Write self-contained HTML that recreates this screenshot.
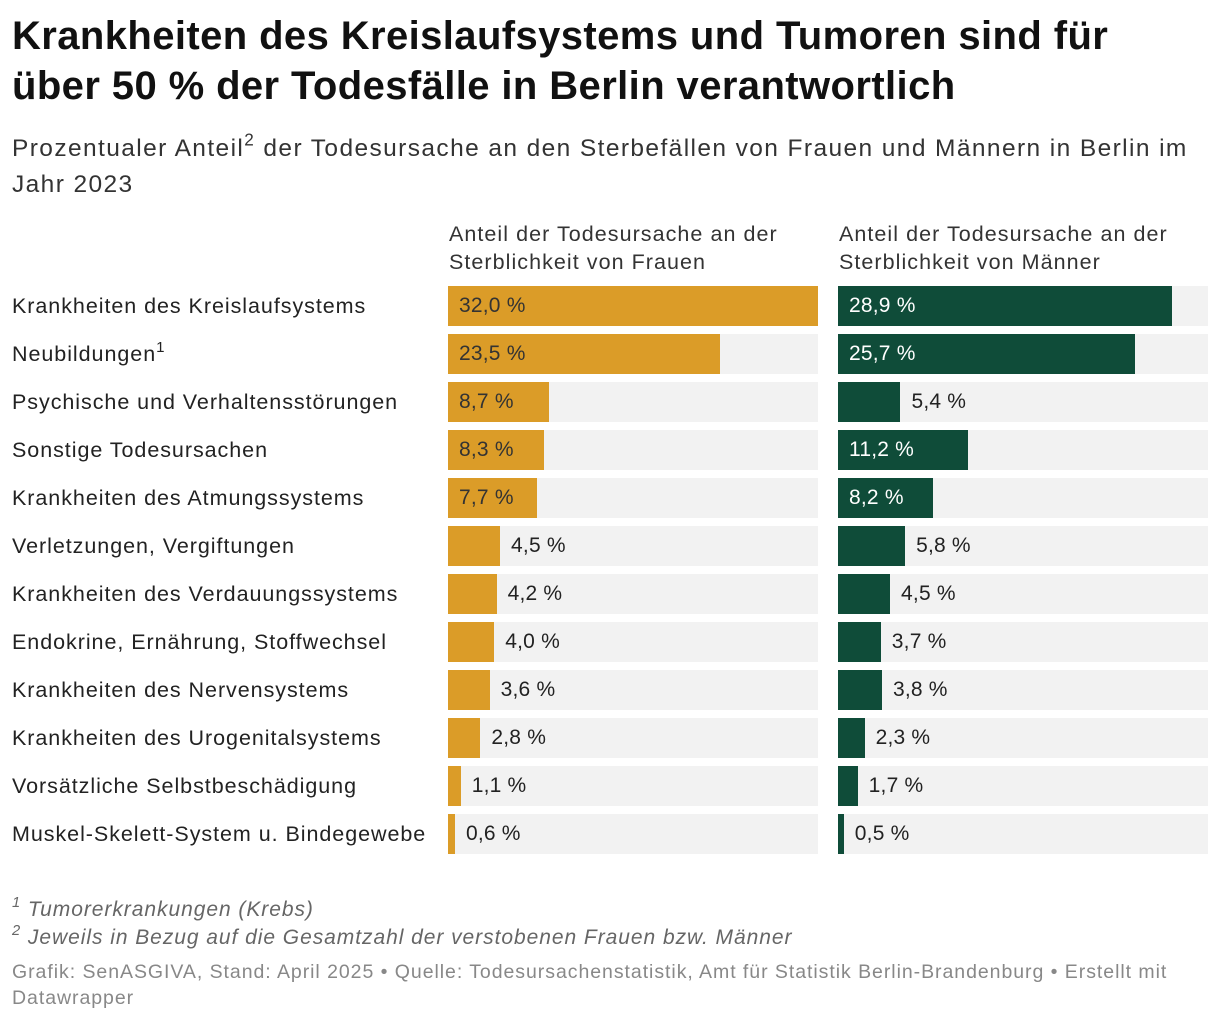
<!DOCTYPE html>
<html><head><meta charset="utf-8"><style>
body{margin:0;width:1220px;height:1022px;background:#fff;font-family:"Liberation Sans",sans-serif;color:#222;position:relative;overflow:hidden}
.a{position:absolute;white-space:nowrap}
h1{position:absolute;left:12px;top:11px;margin:0;font-size:40px;line-height:50px;font-weight:bold;color:#111;letter-spacing:0.4px}
.sub{left:12px;top:131px;font-size:24.5px;line-height:36px;color:#333;white-space:normal;width:1200px;letter-spacing:1.4px}
.hd{font-size:21.5px;line-height:28px;color:#333;letter-spacing:1.05px}
.lab{left:12px;font-size:21.5px;color:#222;line-height:40px;letter-spacing:0.95px}
.bg{background:#f2f2f2;height:40px}
.v{font-size:21px;line-height:40px;letter-spacing:0.2px}
.fn{left:12px;font-size:21px;font-style:italic;color:#666;letter-spacing:0.95px}
.cr{left:12px;font-size:19.5px;color:#888;line-height:26px;white-space:normal;width:1190px;letter-spacing:0.95px}
sup{font-size:0.7em;line-height:0;vertical-align:0.6em}
</style></head><body>
<h1>Krankheiten des Kreislaufsystems und Tumoren sind für<br>über 50 % der Todesfälle in Berlin verantwortlich</h1>
<div class="a sub">Prozentualer Anteil<sup>2</sup> der Todesursache an den Sterbefällen von Frauen und Männern in Berlin im Jahr 2023</div>
<div class="a hd" style="left:449px;top:220px">Anteil der Todesursache an der<br>Sterblichkeit von Frauen</div>
<div class="a hd" style="left:839px;top:220px">Anteil der Todesursache an der<br>Sterblichkeit von Männer</div>
<div id="rows"></div>
<div class="a fn" style="top:898px"><sup>1</sup> Tumorerkrankungen (Krebs)</div>
<div class="a fn" style="top:926px"><sup>2</sup> Jeweils in Bezug auf die Gesamtzahl der verstobenen Frauen bzw. Männer</div>
<div class="a cr" style="top:959px">Grafik: SenASGIVA, Stand: April 2025 • Quelle: Todesursachenstatistik, Amt für Statistik Berlin-Brandenburg • Erstellt mit Datawrapper</div>
<script>
const categories=["Krankheiten des Kreislaufsystems","Neubildungen<sup>1</sup>","Psychische und Verhaltensstörungen","Sonstige Todesursachen","Krankheiten des Atmungssystems","Verletzungen, Vergiftungen","Krankheiten des Verdauungssystems","Endokrine, Ernährung, Stoffwechsel","Krankheiten des Nervensystems","Krankheiten des Urogenitalsystems","Vorsätzliche Selbstbeschädigung","Muskel-Skelett-System u. Bindegewebe"];
const women=[32.0,23.5,8.7,8.3,7.7,4.5,4.2,4.0,3.6,2.8,1.1,0.6];
const men=[28.9,25.7,5.4,11.2,8.2,5.8,4.5,3.7,3.8,2.3,1.7,0.5];
const maxV=32;
const W=370,top0=286,step=48;
const x=v=>v/maxV*W;
const root=document.getElementById('rows');
function add(html){const d=document.createElement('div');d.innerHTML=html;const e=d.firstChild;root.appendChild(e);return e;}
function bar(left,v,i,color,txtIn,name){
  const y=top0+i*step;
  const bg=add(`<div class="a bg" style="left:${left}px;top:${y}px;width:${W}px"></div>`);
  
  
  const w=x(v);
  const b=add(`<div class="a" style="left:${left}px;top:${y}px;width:${w}px;height:40px;background:${color}"></div>`);
  
  
  const s=v.toFixed(1).replace('.',',')+' %';
  const inside=v>=7;
  const t=add(`<div class="a v" style="left:${inside?left+11:left+w+11}px;top:${y}px;color:${inside?txtIn:'#222'}">${s}</div>`);
  
  
}
categories.forEach((c,i)=>{
  const l=add(`<div class="a lab" style="top:${top0+i*step}px">${c}</div>`);
  
  
  bar(448,women[i],i,'#db9c28','#333','women');
  bar(838,men[i],i,'#0f4c39','#fff','men');
});
</script>
</body></html>
